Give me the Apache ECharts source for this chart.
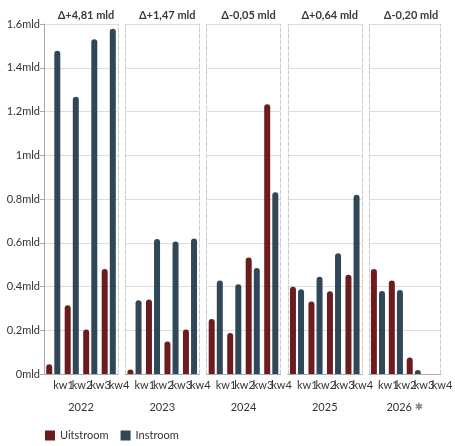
<!DOCTYPE html>
<html>
<head>
<meta charset="utf-8">
<script src="https://cdn.jsdelivr.net/npm/echarts@6/dist/echarts.min.js"></script>
<style>
  html, body { margin: 0; padding: 0; background: #fff; }
  #chart { width: 455px; height: 446px; }
</style>
</head>
<body>
<div id="chart"></div>
<script>
const years = ['2022', '2023', '2024', '2025', '2026'];
const quarters = ['kw1', 'kw2', 'kw3', 'kw4'];
const deltaLabels = ['Δ+4,81 mld', 'Δ+1,47 mld', 'Δ-0,05 mld', 'Δ+0,64 mld', 'Δ-0,20 mld'];
// values in mld, per year kw1..kw4
const uitstroom = [
    [0.045, 0.314, 0.204, 0.48],
    [0.021, 0.341, 0.149, 0.203],
    [0.251, 0.187, 0.533, 1.233],
    [0.399, 0.331, 0.378, 0.454],
    [0.48, 0.427, 0.075, null]
];
const instroom = [
    [1.478, 1.268, 1.53, 1.578],
    [0.337, 0.617, 0.606, 0.62],
    [0.427, 0.41, 0.485, 0.831],
    [0.387, 0.445, 0.552, 0.819],
    [0.379, 0.384, 0.018, null]
];

const chart = echarts.init(document.getElementById('chart'));

const font = 'Lato, "Noto Sans", sans-serif';
const uitColor = '#6d1c1d';
const inColor = '#2f4757';
const panelLeft = 44, panelStep = 81.25, panelWidth = 74;

var grids = [], xAxes = [], yAxes = [], series = [], titles = [];

years.forEach(function (year, i) {
    const left = panelLeft + i * panelStep;
    grids.push({ left: left, width: panelWidth, top: 24, bottom: 72 });
    titles.push({
        text: deltaLabels[i],
        left: left + panelWidth / 2,
        top: 5,
        textAlign: 'center',
        textStyle: { fontFamily: font, fontSize: 11, fontWeight: 'bold', color: '#3a3a3a' }
    });
    xAxes.push({
        type: 'category',
        gridIndex: i,
        data: quarters,
        name: i === 4 ? '{y|' + year + '} {s|✱}' : year,
        nameLocation: 'middle',
        nameGap: 28,
        nameTextStyle: {
            fontFamily: font, fontSize: 11, color: '#333',
            rich: {
                y: { fontFamily: font, fontSize: 11, color: '#333' },
                s: { fontFamily: 'DejaVu Sans', fontSize: 10, color: '#888' }
            }
        },
        axisLine: { lineStyle: { color: '#aaa' } },
        axisTick: { alignWithLabel: true, length: 4, lineStyle: { color: '#aaa' } },
        axisLabel: { interval: 0, align: 'left', margin: 6, fontFamily: font, fontSize: 11, color: '#333' },
        splitLine: { show: false }
    });
    yAxes.push({
        type: 'value',
        gridIndex: i,
        min: 0,
        max: 1.6,
        interval: 0.2,
        axisLine: { show: true, lineStyle: i === 0 ? { color: '#aaa' } : { color: '#ccc', type: 'dashed' } },
        axisTick: { show: i === 0, length: 4, lineStyle: { color: '#aaa' } },
        axisLabel: {
            show: i === 0,
            fontFamily: font, fontSize: 11, color: '#333', margin: 4,
            formatter: function (v) { return v + 'mld'; }
        },
        splitLine: { show: true, lineStyle: { color: '#ddd' } }
    });
    // dashed right edge of each panel
    yAxes.push({
        type: 'value',
        gridIndex: i,
        position: 'right',
        min: 0,
        max: 1.6,
        interval: 0.2,
        axisLine: { show: true, lineStyle: { color: '#ccc', type: 'dashed' } },
        axisTick: { show: false },
        axisLabel: { show: false },
        splitLine: { show: false }
    });
    series.push({
        name: 'Uitstroom',
        type: 'bar',
        xAxisIndex: i,
        yAxisIndex: i * 2,
        data: uitstroom[i],
        barWidth: 6,
        barGap: '35%',
        itemStyle: { color: uitColor, borderRadius: [3, 3, 0, 0] }
    });
    series.push({
        name: 'Instroom',
        type: 'bar',
        xAxisIndex: i,
        yAxisIndex: i * 2,
        data: instroom[i],
        barWidth: 6,
        barGap: '35%',
        itemStyle: { color: inColor, borderRadius: [3, 3, 0, 0] }
    });
});

var option = {
    backgroundColor: '#fff',
    animation: false,
    title: titles,
    legend: {
        data: ['Uitstroom', 'Instroom'],
        left: 40,
        bottom: 0,
        icon: 'rect',
        itemWidth: 10,
        itemHeight: 10,
        itemGap: 12,
        textStyle: { fontFamily: font, fontSize: 11, color: '#333' }
    },
    grid: grids,
    xAxis: xAxes,
    yAxis: yAxes,
    series: series
};
chart.setOption(option);
</script>
</body>
</html>
